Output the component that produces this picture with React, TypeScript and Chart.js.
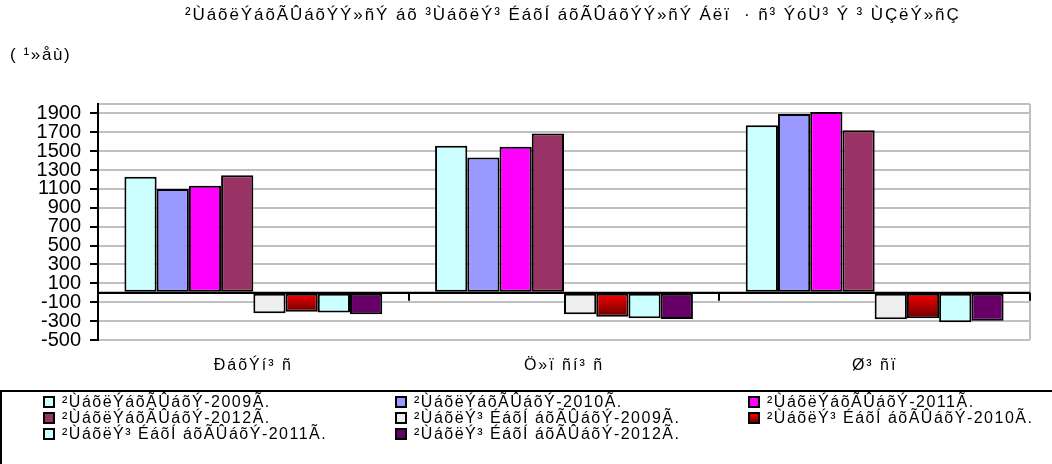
import React, { useEffect, useRef } from 'react';
import { Chart, registerables } from 'chart.js';

Chart.register(...registerables);

const titleText = '²ÙáõëÝáõÃÛáõÝÝ»ñÝ áõ ³ÙáõëÝ³ ÉáõÍ áõÃÛáõÝÝ»ñÝ Áëï  · ñ³ ÝóÙ³ Ý ³ ÙÇëÝ»ñÇ';
const unitText = '( ¹»åù)';
const categories = ['ÐáõÝí³ ñ', 'Ö»ï ñí³ ñ', 'Ø³ ñï'];
const seriesNames = [
  '²ÙáõëÝáõÃÛáõÝ-2009Ã.',
  '²ÙáõëÝáõÃÛáõÝ-2010Ã.',
  '²ÙáõëÝáõÃÛáõÝ-2011Ã.',
  '²ÙáõëÝáõÃÛáõÝ-2012Ã.',
  '²ÙáõëÝ³ ÉáõÍ áõÃÛáõÝ-2009Ã.',
  '²ÙáõëÝ³ ÉáõÍ áõÃÛáõÝ-2010Ã.',
  '²ÙáõëÝ³ ÉáõÍ áõÃÛáõÝ-2011Ã.',
  '²ÙáõëÝ³ ÉáõÍ áõÃÛáõÝ-2012Ã.',
];
const marriages2009 = [1230, 1557, 1776];
const marriages2010 = [1100, 1434, 1893];
const marriages2011 = [1135, 1547, 1914];
const marriages2012 = [1245, 1688, 1723];
const divorces2009 = [-217, -228, -281];
const divorces2010 = [-200, -253, -270];
const divorces2011 = [-210, -270, -312];
const divorces2012 = [-228, -277, -295];
const seriesValues = [
  marriages2009, marriages2010, marriages2011, marriages2012,
  divorces2009, divorces2010, divorces2011, divorces2012,
];
const seriesColors = ['#CCFFFF', '#9999FF', '#FF00FF', '#993366', '#EEEEEE', 'GRADIENT', '#CCFFFF', '#660066'];
const legendSwatch = ['#CCFFFF', '#9999FF', '#FF00FF', '#993366', '#EEEEEE', 'linear-gradient(#ff0000,#700000)', '#CCFFFF', '#660066'];
const yTickValues = [-500, -300, -100, 0, 100, 300, 500, 700, 900, 1100, 1300, 1500, 1700, 1900, 2000];
const yMin = -500;
const yMax = 2000;

const FONT = '"Liberation Sans", Arial, sans-serif';

const framePlugin = {
  id: 'frame',
  afterDatasetsDraw(chart: any) {
    const { ctx, chartArea, scales } = chart;
    const x = scales.x;
    const y = scales.y;
    const zero = y.getPixelForValue(0);
    ctx.save();
    ctx.strokeStyle = '#c0c0c0';
    ctx.lineWidth = 2;
    ctx.beginPath();
    ctx.moveTo(chartArea.right, chartArea.top);
    ctx.lineTo(chartArea.right, chartArea.bottom);
    ctx.stroke();
    ctx.strokeStyle = '#000';
    ctx.lineWidth = 2;
    ctx.beginPath();
    ctx.moveTo(chartArea.left, zero);
    ctx.lineTo(chartArea.right, zero);
    ctx.stroke();
    ctx.beginPath();
    for (let i = 0; i < categories.length; i++) {
      const b = i < categories.length - 1
        ? (x.getPixelForValue(i) + x.getPixelForValue(i + 1)) / 2
        : chartArea.right;
      ctx.moveTo(Math.round(b), zero);
      ctx.lineTo(Math.round(b), zero + 8);
    }
    ctx.stroke();
    ctx.restore();
    // x category labels are drawn after this hook (ticks z = 1): widen their spacing
    (ctx as any).letterSpacing = '2px';
  },
  afterDraw(chart: any) {
    (chart.ctx as any).letterSpacing = '0px';
  },
};

export default function App() {
  const ref = useRef<HTMLCanvasElement>(null);
  useEffect(() => {
    if (!ref.current) return;
    const datasets = seriesValues.map((vals, i) => ({
      label: seriesNames[i],
      data: vals,
      backgroundColor: seriesColors[i] === 'GRADIENT'
        ? (c: any) => {
            const chart = c.chart;
            const ys = chart.scales && chart.scales.y;
            if (!chart.chartArea || !ys) return '#ff0000';
            const v = typeof c.raw === 'number' ? c.raw : -250;
            const g = chart.ctx.createLinearGradient(0, ys.getPixelForValue(0), 0, ys.getPixelForValue(v));
            g.addColorStop(0, '#ff0000');
            g.addColorStop(1, '#6a0000');
            return g;
          }
        : seriesColors[i],
      borderColor: '#000',
      borderWidth: 2,
      borderSkipped: false,
    }));
    const chart = new Chart(ref.current, {
      type: 'bar',
      data: { labels: categories, datasets },
      plugins: [framePlugin],
      options: {
        animation: false,
        responsive: false,
        maintainAspectRatio: false,
        layout: { padding: { left: 8, right: 22, top: 104, bottom: 84 } },
        plugins: {
          legend: { display: false },
          title: { display: false },
          tooltip: { enabled: false },
        },
        datasets: { bar: { categoryPercentage: 0.83, barPercentage: 1.0 } },
        scales: {
          x: {
            grid: { display: false, drawTicks: false },
            border: { display: false },
            ticks: { z: 1, color: '#000', font: { family: FONT, size: 16 }, padding: 16 },
            afterFit: (s: any) => { s.height = 40; },
          },
          y: {
            min: yMin,
            max: yMax,
            afterBuildTicks: (s: any) => { s.ticks = yTickValues.map((v) => ({ value: v })); },
            afterFit: (s: any) => { s.width = 90; },
            ticks: {
              autoSkip: false,
              color: '#000',
              font: { family: FONT, size: 20 },
              padding: 9,
              callback: (v: any) => (v === 0 || v === yMax ? '' : String(v)),
            },
            grid: {
              color: (c: any) => (c.tick && c.tick.value === 0 ? '#000' : '#c0c0c0'),
              lineWidth: 2,
              tickLength: 8,
              tickWidth: 2,
              tickColor: (c: any) => (c.tick && (c.tick.value === 0 || c.tick.value === yMax) ? 'rgba(0,0,0,0)' : '#000'),
            },
            border: { display: true, color: '#000', width: 2 },
          },
        },
      },
    });
    return () => chart.destroy();
  }, []);

  const cols = [43, 395, 748];
  const rows = [402, 418, 434];

  return (
    <div style={{ position: 'fixed', left: 0, top: 0, width: 1052, height: 464, overflow: 'hidden', background: '#fff', fontFamily: FONT }}>
      <canvas ref={ref} width={1052} height={464} style={{ position: 'absolute', left: 0, top: 0, width: 1052, height: 464 }} />
      <div style={{ position: 'absolute', left: 185, top: 4, fontSize: 17, letterSpacing: '1.9px', lineHeight: '22px', whiteSpace: 'pre', color: '#000' }}>{titleText}</div>
      <div style={{ position: 'absolute', left: 10, top: 44, fontSize: 17, letterSpacing: '1.6px', lineHeight: '22px', whiteSpace: 'pre', color: '#000' }}>{unitText}</div>
      <div style={{ position: 'absolute', left: 0, top: 390, width: 1100, height: 100, borderTop: '2px solid #000', borderLeft: '2px solid #000', boxSizing: 'border-box' }} />
      {seriesNames.map((name, i) => {
        const col = i % 3;
        const row = Math.floor(i / 3);
        return (
          <div key={i} style={{ position: 'absolute', left: cols[col], top: rows[row] - 8, height: 16, display: 'flex', alignItems: 'center', whiteSpace: 'pre', fontSize: 16, lineHeight: '16px', color: '#000' }}>
            <span style={{ display: 'inline-block', width: 12, height: 12, boxSizing: 'border-box', border: '2px solid #000', background: legendSwatch[i], marginRight: 7, flex: 'none' }} />
            <span style={{ letterSpacing: '1.5px' }}>{name}</span>
          </div>
        );
      })}
    </div>
  );
}
